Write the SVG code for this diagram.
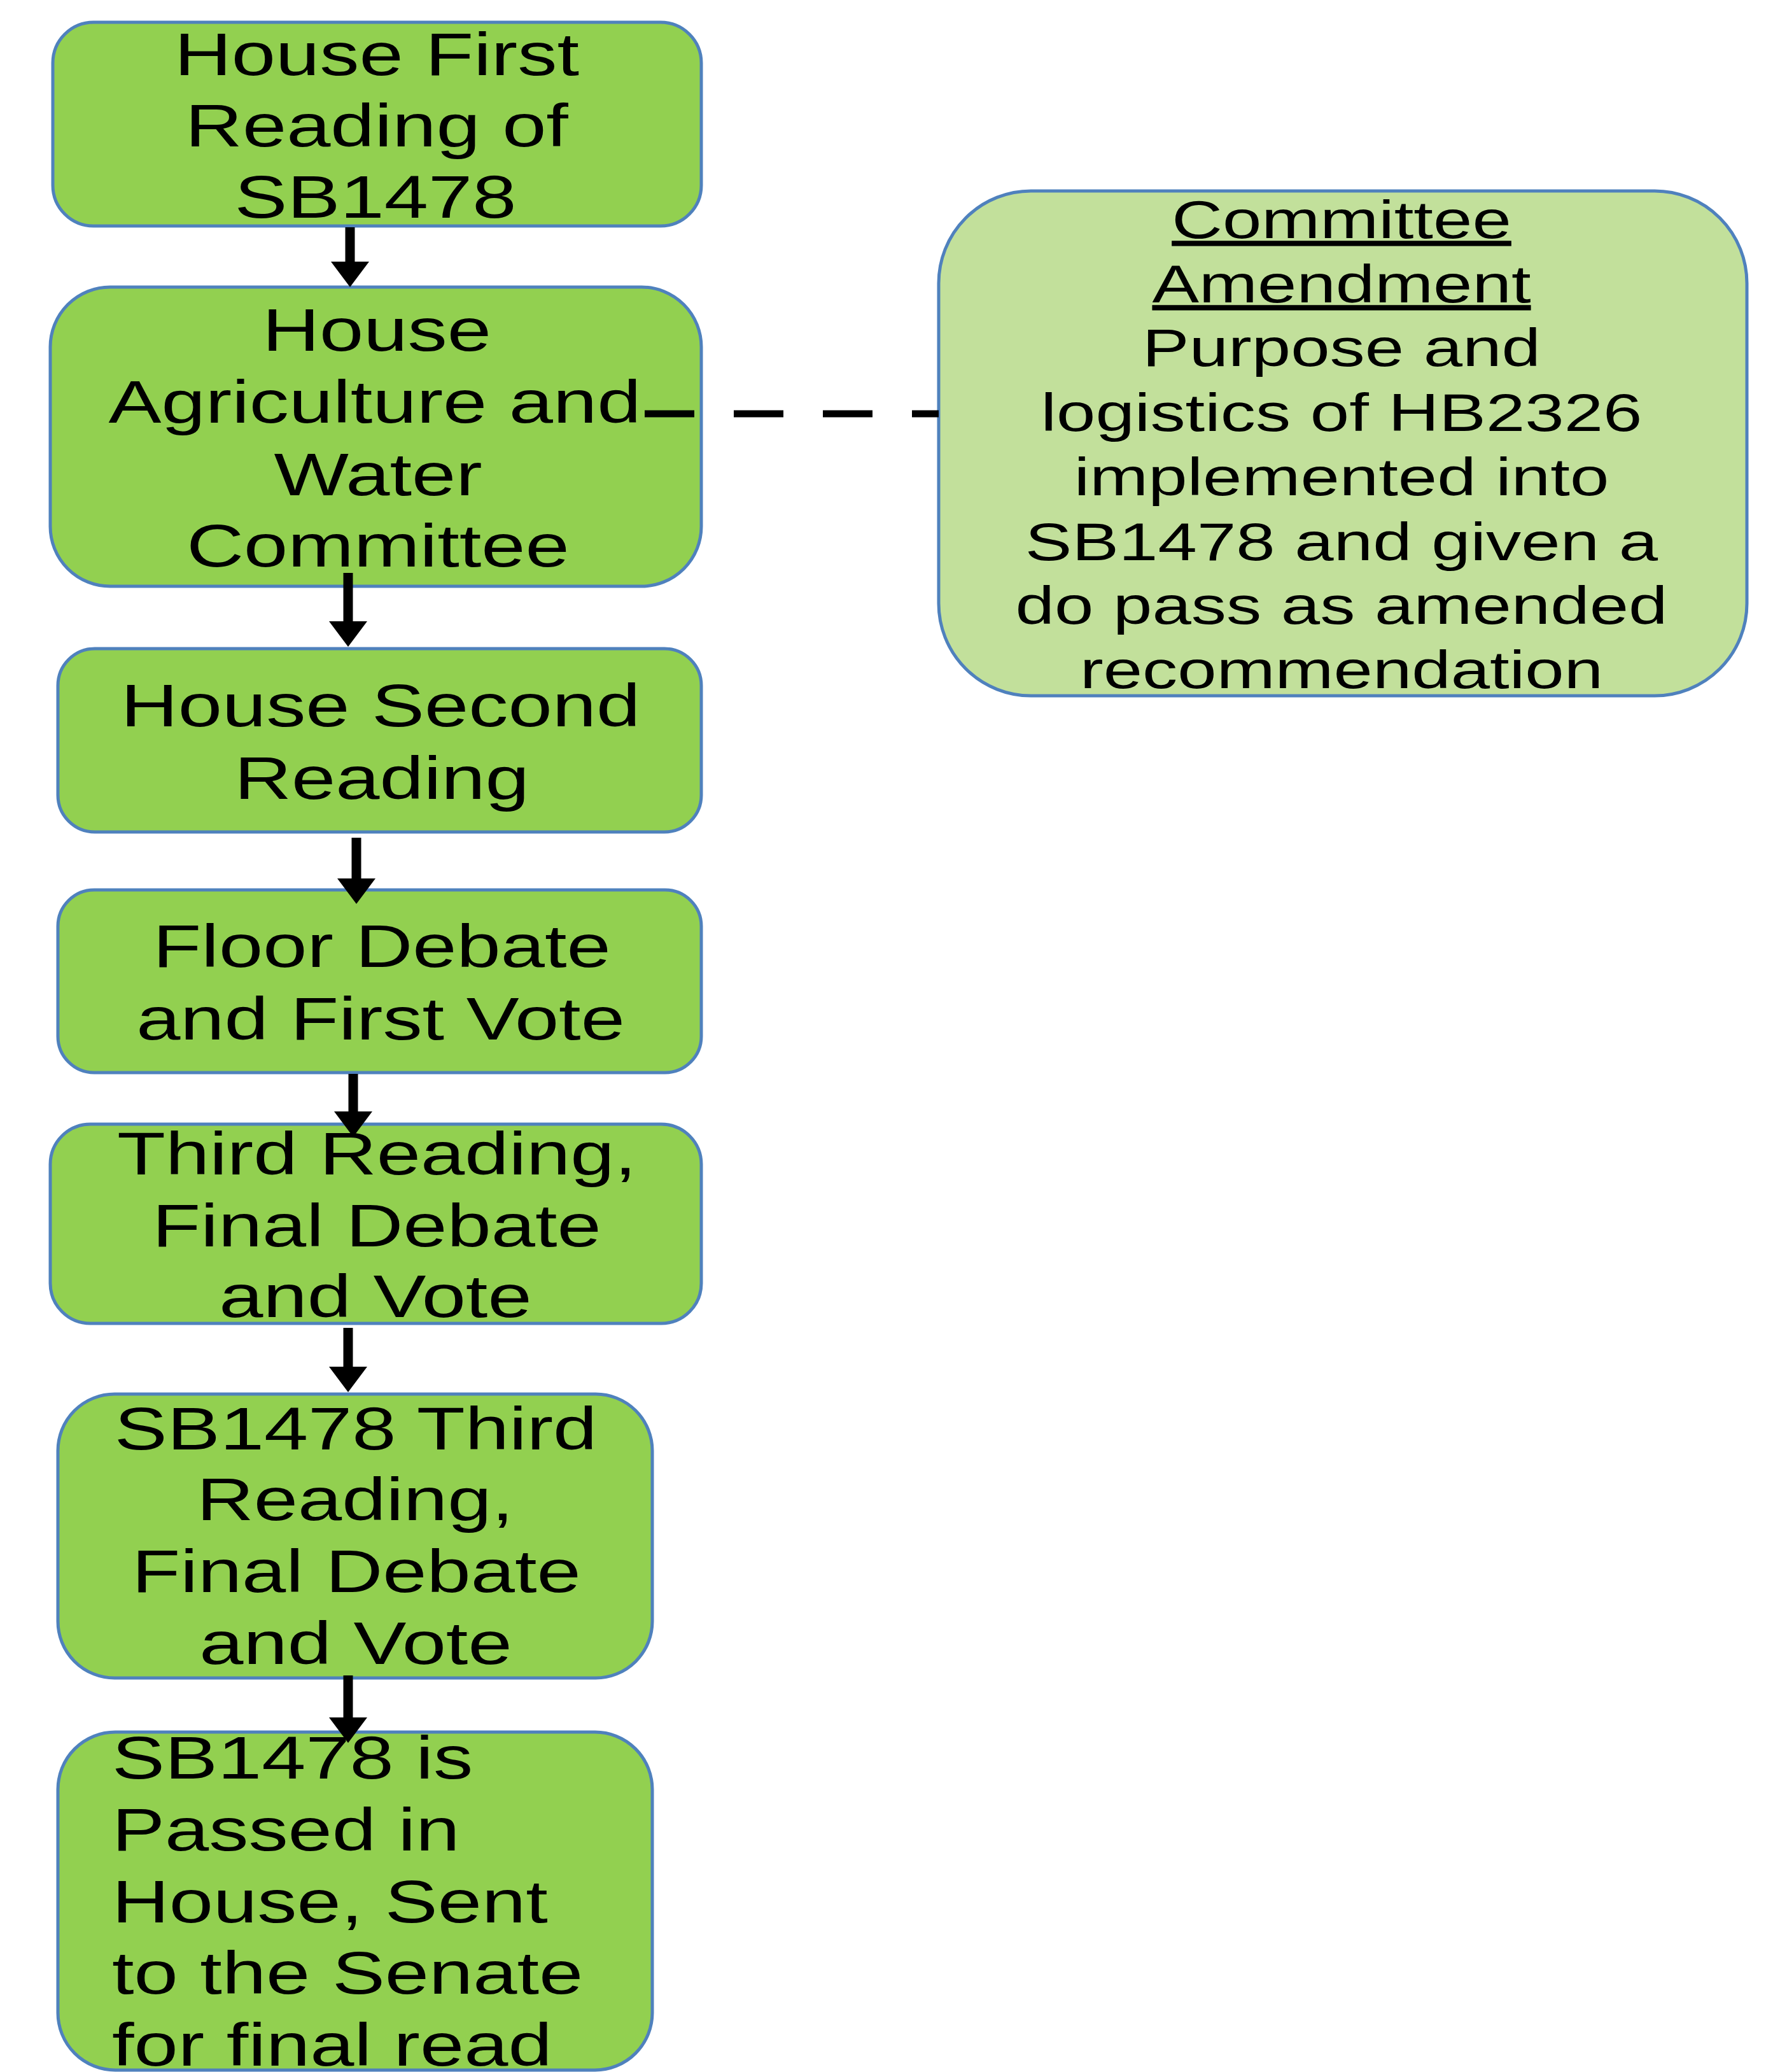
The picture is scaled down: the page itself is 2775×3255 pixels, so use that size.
<svg xmlns="http://www.w3.org/2000/svg" width="2775" height="3255" viewBox="0 0 2775 3255">
<style>
.node{fill:#92d050;stroke:#4f81bd;stroke-width:5}
.note{fill:#c2e09b;stroke:#4f81bd;stroke-width:5}
text{font-family:"Liberation Sans",Arial,sans-serif;fill:#000}
.t{font-size:95px;text-anchor:middle}
.tl{font-size:95px;text-anchor:start}
.tr{font-size:83px;text-anchor:middle}
.u{text-decoration:underline}
.arrow{stroke:#000;stroke-width:15;fill:none}
.dash{stroke:#000;stroke-width:11;stroke-dasharray:78 62;fill:none}
</style>
<defs>
<marker id="ah" viewBox="0 0 40 60" refX="0" refY="30" markerWidth="40" markerHeight="60" markerUnits="userSpaceOnUse" orient="auto">
<path d="M0,0 L40,30 L0,60 z" fill="#000"/>
</marker>
</defs>
<rect width="2775" height="3255" fill="#fff"/>

<g id="n1">
<rect class="node" x="83" y="35" width="1019" height="320" rx="64" ry="64"/>
<text class="t" transform="translate(592 0) scale(1.31 1)" y="118">House First</text>
<text class="t" transform="translate(592 0) scale(1.31 1)" y="230">Reading of</text>
<text class="t" transform="translate(590 0) scale(1.31 1)" y="342">SB1478</text>
</g>

<g id="n2">
<rect class="node" x="79" y="451" width="1023" height="470" rx="94" ry="94"/>
<text class="t" transform="translate(592 0) scale(1.31 1)" y="551">House</text>
<text class="t" transform="translate(589 0) scale(1.31 1)" y="664">Agriculture and</text>
<text class="t" transform="translate(594 0) scale(1.31 1)" y="778">Water</text>
<text class="t" transform="translate(594 0) scale(1.31 1)" y="890">Committee</text>
</g>

<g id="n3">
<rect class="node" x="91" y="1019" width="1011" height="288" rx="58" ry="58"/>
<text class="t" transform="translate(598 0) scale(1.31 1)" y="1141">House Second</text>
<text class="t" transform="translate(600 0) scale(1.31 1)" y="1255">Reading</text>
</g>

<g id="n4">
<rect class="node" x="91" y="1398" width="1011" height="287" rx="57" ry="57"/>
<text class="t" transform="translate(600 0) scale(1.31 1)" y="1519">Floor Debate</text>
<text class="t" transform="translate(598 0) scale(1.31 1)" y="1633">and First Vote</text>
</g>

<g id="n5">
<rect class="node" x="79" y="1766" width="1023" height="313" rx="63" ry="63"/>
<text class="t" transform="translate(592 0) scale(1.31 1)" y="1845">Third Reading,</text>
<text class="t" transform="translate(592 0) scale(1.31 1)" y="1958">Final Debate</text>
<text class="t" transform="translate(590 0) scale(1.31 1)" y="2069">and Vote</text>
</g>

<g id="n6">
<rect class="node" x="91" y="2190" width="934" height="446" rx="89" ry="89"/>
<text class="t" transform="translate(559 0) scale(1.31 1)" y="2277">SB1478 Third</text>
<text class="t" transform="translate(558 0) scale(1.31 1)" y="2388">Reading,</text>
<text class="t" transform="translate(560 0) scale(1.31 1)" y="2501">Final Debate</text>
<text class="t" transform="translate(559 0) scale(1.31 1)" y="2614">and Vote</text>
</g>

<g id="n7">
<rect class="node" x="91" y="2721" width="934" height="531" rx="90" ry="90"/>
<text class="tl" transform="translate(176 0) scale(1.31 1)" y="2794">SB1478 is</text>
<text class="tl" transform="translate(176 0) scale(1.31 1)" y="2907">Passed in</text>
<text class="tl" transform="translate(176 0) scale(1.31 1)" y="3020">House, Sent</text>
<text class="tl" transform="translate(176 0) scale(1.31 1)" y="3132">to the Senate</text>
<text class="tl" transform="translate(176 0) scale(1.31 1)" y="3245">for final read</text>
</g>

<g id="amend">
<rect class="note" x="1475" y="300" width="1270" height="793" rx="145" ry="145"/>
<text class="tr u" transform="translate(2108 0) scale(1.33 1)" y="374">Committee</text>
<text class="tr u" transform="translate(2108 0) scale(1.33 1)" y="475">Amendment</text>
<text class="tr" transform="translate(2108 0) scale(1.33 1)" y="575">Purpose and</text>
<text class="tr" transform="translate(2108 0) scale(1.33 1)" y="677">logistics of HB2326</text>
<text class="tr" transform="translate(2108 0) scale(1.33 1)" y="778">implemented into</text>
<text class="tr" transform="translate(2108 0) scale(1.33 1)" y="880">SB1478 and given a</text>
<text class="tr" transform="translate(2108 0) scale(1.33 1)" y="980">do pass as amended</text>
<text class="tr" transform="translate(2108 0) scale(1.33 1)" y="1081">recommendation</text>
</g>

<g id="connectors">
<line class="arrow" x1="550" y1="357" x2="550" y2="411" marker-end="url(#ah)"/>
<line class="arrow" x1="547" y1="900" x2="547" y2="976" marker-end="url(#ah)"/>
<line class="arrow" x1="560" y1="1316" x2="560" y2="1380" marker-end="url(#ah)"/>
<line class="arrow" x1="555" y1="1687" x2="555" y2="1746" marker-end="url(#ah)"/>
<line class="arrow" x1="547" y1="2086" x2="547" y2="2147" marker-end="url(#ah)"/>
<line class="arrow" x1="547" y1="2632" x2="547" y2="2698" marker-end="url(#ah)"/>
<line class="dash" x1="1013" y1="650" x2="1475" y2="650"/>
</g>
</svg>
